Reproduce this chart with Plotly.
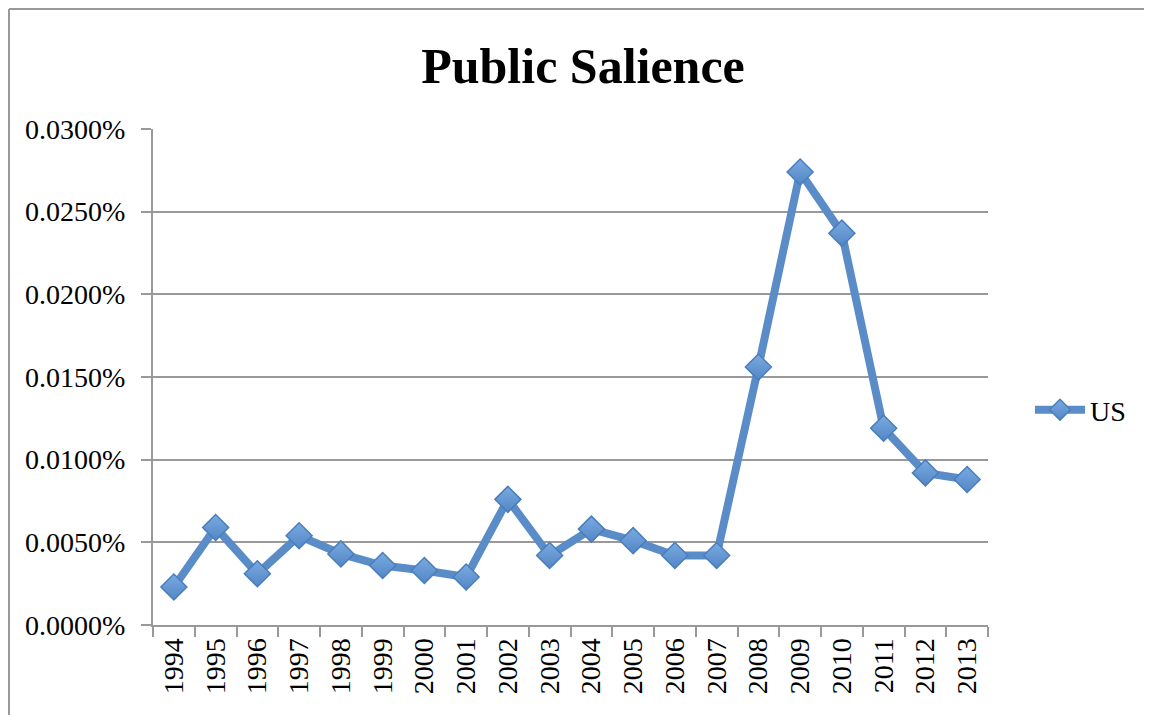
import plotly.graph_objects as go

years = [str(y) for y in range(1994, 2014)]
us_values = [0.0023, 0.0059, 0.0031, 0.0054, 0.0043, 0.0036, 0.0033, 0.0029,
             0.0076, 0.0042, 0.0058, 0.0051, 0.0042, 0.0042, 0.0156, 0.0274,
             0.0237, 0.0119, 0.0092, 0.0088]
y_ticks = [0.0, 0.005, 0.01, 0.015, 0.02, 0.025, 0.03]
y_tick_labels = ["0.0000%", "0.0050%", "0.0100%", "0.0150%", "0.0200%", "0.0250%", "0.0300%"]

# page body has an 8px margin; figure coordinates are page coordinates minus 8
OFF = 8
W, H = 1152 - OFF, 715 - OFF
L, R, T, B = 153 - OFF, 988 - OFF, 129 - OFF, 625 - OFF

fig = go.Figure()
fig.add_trace(go.Scatter(
    x=years, y=us_values, name="US", mode="lines+markers",
    line=dict(color="#5A8DC8", width=8),
    marker=dict(symbol="diamond", size=20, color="#7AAAE2",
                gradient=dict(type="vertical", color="#5286C4"),
                line=dict(color="#4A7DBB", width=1.5)),
))

pw, ph = R - L, B - T
fx0 = (1 - L) / pw
fx1 = (W + 40 - L) / pw
fy_top = (B - 1) / ph
fy_bot = (B - (H + 40)) / ph
fig.add_shape(type="line", xref="paper", yref="paper", x0=fx0, x1=fx1, y0=fy_top, y1=fy_top,
              line=dict(color="#999999", width=2), layer="below")
fig.add_shape(type="line", xref="paper", yref="paper", x0=fx0, x1=fx0, y0=fy_bot, y1=fy_top,
              line=dict(color="#999999", width=2), layer="below")

fig.update_layout(
    width=W, height=H,
    margin=dict(l=L, r=W - R, t=T, b=H - B),
    paper_bgcolor="white", plot_bgcolor="white",
    font=dict(family="Liberation Serif", color="black", size=28),
    title=dict(text="<b>Public Salience</b>", font=dict(size=50, family="Liberation Serif"),
               x=(583 - OFF) / W, xanchor="center", xref="container",
               y=1 - (65 - OFF) / H, yanchor="middle", yref="container"),
    showlegend=True,
    legend=dict(x=(1030 - OFF - L) / pw, xanchor="left", y=(B - (410 - OFF)) / ph, yanchor="middle",
                font=dict(size=28), itemwidth=50, bgcolor="rgba(0,0,0,0)"),
    xaxis=dict(type="category", range=[-0.5, 19.5], showgrid=False,
               showline=True, linecolor="#999999", linewidth=2,
               ticks="outside", tickson="boundaries", ticklen=10, tickcolor="#999999", tickwidth=2,
               tickangle=-90, tickfont=dict(size=28)),
    yaxis=dict(range=[0, 0.03], tickvals=y_ticks, ticktext=y_tick_labels,
               showgrid=True, gridcolor="#999999", gridwidth=2,
               showline=True, linecolor="#999999", linewidth=2,
               ticks="outside", ticklen=10, tickcolor="#999999", tickwidth=2,
               ticklabelstandoff=10,
               zeroline=False, tickfont=dict(size=28)),
)

fig.write_html("out.html")
